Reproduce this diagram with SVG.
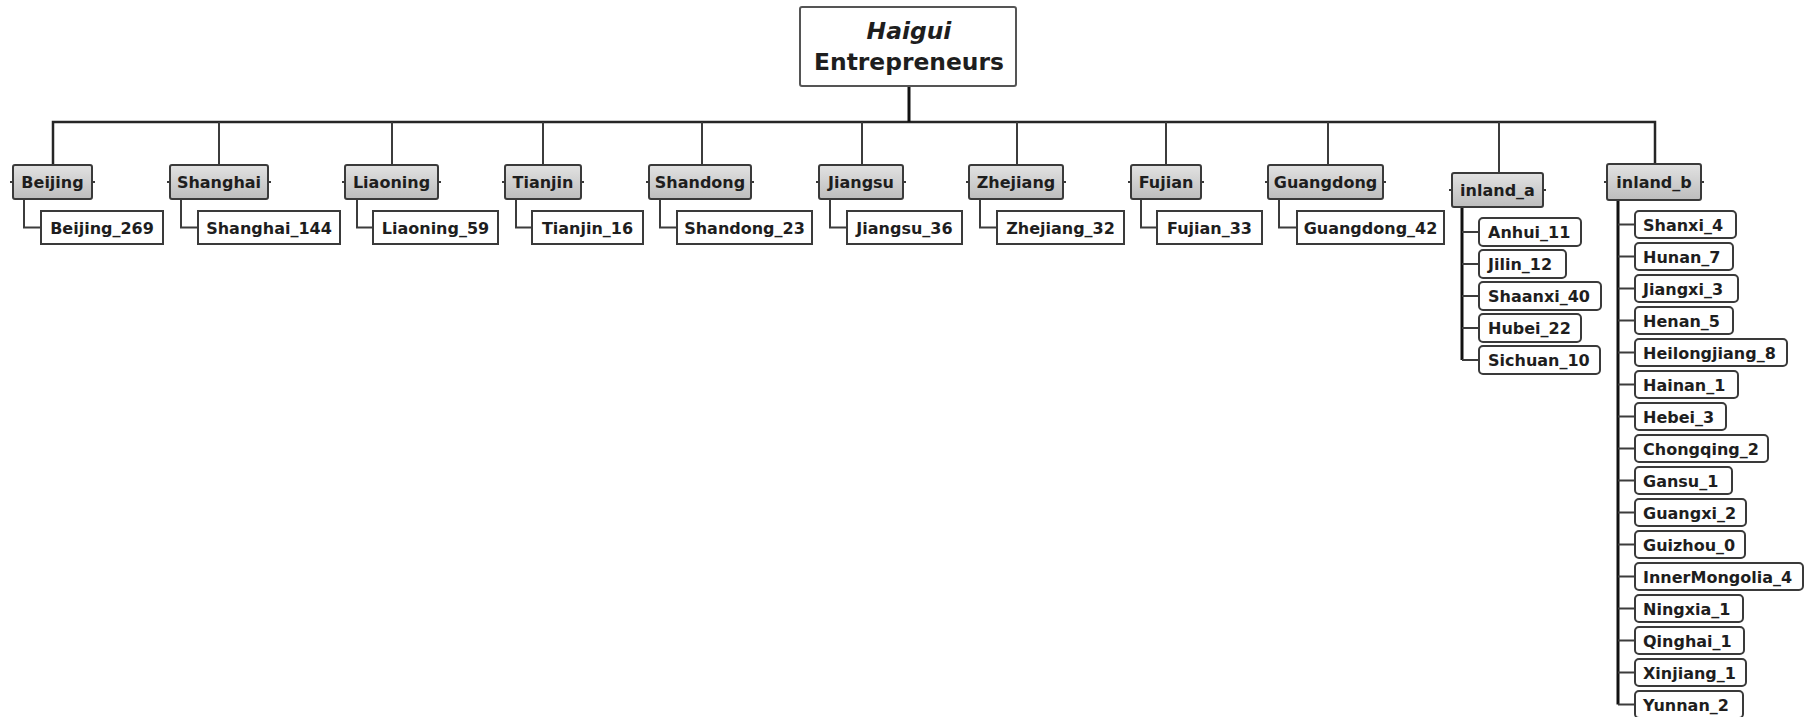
<svg xmlns="http://www.w3.org/2000/svg" width="1820" height="717" viewBox="0 0 1820 717">
<defs>
<linearGradient id="pg" x1="0" y1="0" x2="0" y2="1">
<stop offset="0" stop-color="#e2e2e2"/>
<stop offset="1" stop-color="#bdbdbd"/>
</linearGradient>
</defs>
<style>
text{font-family:"DejaVu Sans","Liberation Sans",sans-serif;font-weight:bold;fill:#1e1e1e}
.t{font-size:16px}
.c{text-anchor:middle}
.root rect{fill:#fff;stroke:#555;stroke-width:2}
.root text{font-size:23.4px;text-anchor:middle}
.p rect{fill:url(#pg);stroke:#3a3a3a;stroke-width:2}
.p line{stroke:#3a3a3a;stroke-width:2}
.k rect{fill:#fff;stroke:#3a3a3a;stroke-width:2}
.r rect{fill:#fff;stroke:#3a3a3a;stroke-width:2}
.conn path{fill:none;stroke:#3c3c3c;stroke-width:2}
.conn .bus{stroke:#262626;stroke-width:2.5}
.conn .thick{stroke:#111;stroke-width:3}
</style>
<g class="conn" id="connectors">
<path class="bus" d="M53,165 V122 H1655 V164"/>
<path class="thick" d="M909,86 V122"/>
<path d="M219,122 V165 M392,122 V165 M543,122 V165 M702,122 V165 M862,122 V165 M1017,122 V165 M1166,122 V165 M1328,122 V165 M1499,122 V173"/>
<path d="M24,199 V227.5 H41"/>
<path d="M181,199 V227.5 H198"/>
<path d="M357,199 V227.5 H373"/>
<path d="M516,199 V227.5 H532"/>
<path d="M660,199 V227.5 H677"/>
<path d="M830,199 V227.5 H847"/>
<path d="M980,199 V227.5 H997"/>
<path d="M1141,199 V227.5 H1157"/>
<path d="M1279,199 V227.5 H1297"/>
<path class="thick" d="M1462,207 V360"/>
<path d="M1462,232 H1479 M1462,264 H1479 M1462,296 H1479 M1462,328 H1479 M1462,360 H1479"/>
<path class="thick" d="M1618,200 V704.5"/>
<path d="M1618,224.5 H1635 M1618,256.5 H1635 M1618,288.5 H1635 M1618,320.5 H1635 M1618,352.5 H1635 M1618,384.5 H1635 M1618,416.5 H1635 M1618,448.5 H1635 M1618,480.5 H1635 M1618,512.5 H1635 M1618,544.5 H1635 M1618,576.5 H1635 M1618,608.5 H1635 M1618,640.5 H1635 M1618,672.5 H1635 M1618,704.5 H1635"/>
</g>
<g class="root" id="root">
<rect x="800" y="7" width="216" height="79" rx="2"/>
<text x="909" y="39" font-style="italic">Haigui</text>
<text x="909" y="70">Entrepreneurs</text>
</g>
<g class="p" id="p-beijing"><rect x="13" y="165" width="79" height="34" rx="2"/><line x1="10" y1="182" x2="13" y2="182"/><line x1="92" y1="182" x2="95" y2="182"/><text class="t c" x="52.5" y="188">Beijing</text></g>
<g class="p" id="p-shanghai"><rect x="170" y="165" width="98" height="34" rx="2"/><line x1="167" y1="182" x2="170" y2="182"/><line x1="268" y1="182" x2="271" y2="182"/><text class="t c" x="219" y="188">Shanghai</text></g>
<g class="p" id="p-liaoning"><rect x="345" y="165" width="93" height="34" rx="2"/><line x1="342" y1="182" x2="345" y2="182"/><line x1="438" y1="182" x2="441" y2="182"/><text class="t c" x="391.5" y="188">Liaoning</text></g>
<g class="p" id="p-tianjin"><rect x="505" y="165" width="76" height="34" rx="2"/><line x1="502" y1="182" x2="505" y2="182"/><line x1="581" y1="182" x2="584" y2="182"/><text class="t c" x="543" y="188">Tianjin</text></g>
<g class="p" id="p-shandong"><rect x="649" y="165" width="102" height="34" rx="2"/><line x1="646" y1="182" x2="649" y2="182"/><line x1="751" y1="182" x2="754" y2="182"/><text class="t c" x="700" y="188">Shandong</text></g>
<g class="p" id="p-jiangsu"><rect x="819" y="165" width="84" height="34" rx="2"/><line x1="816" y1="182" x2="819" y2="182"/><line x1="903" y1="182" x2="906" y2="182"/><text class="t c" x="861" y="188">Jiangsu</text></g>
<g class="p" id="p-zhejiang"><rect x="969" y="165" width="94" height="34" rx="2"/><line x1="966" y1="182" x2="969" y2="182"/><line x1="1063" y1="182" x2="1066" y2="182"/><text class="t c" x="1016" y="188">Zhejiang</text></g>
<g class="p" id="p-fujian"><rect x="1131" y="165" width="70" height="34" rx="2"/><line x1="1128" y1="182" x2="1131" y2="182"/><line x1="1201" y1="182" x2="1204" y2="182"/><text class="t c" x="1166" y="188">Fujian</text></g>
<g class="p" id="p-guangdong"><rect x="1268" y="165" width="115" height="34" rx="2"/><line x1="1265" y1="182" x2="1268" y2="182"/><line x1="1383" y1="182" x2="1386" y2="182"/><text class="t c" x="1325.5" y="188">Guangdong</text></g>
<g class="p" id="p-inland_a"><rect x="1452" y="173" width="91" height="34" rx="2"/><line x1="1449" y1="190" x2="1452" y2="190"/><line x1="1543" y1="190" x2="1546" y2="190"/><text class="t c" x="1497.5" y="196">inland_a</text></g>
<g class="p" id="p-inland_b"><rect x="1607" y="164" width="94" height="36" rx="2"/><line x1="1604" y1="182" x2="1607" y2="182"/><line x1="1701" y1="182" x2="1704" y2="182"/><text class="t c" x="1654" y="188">inland_b</text></g>
<g class="k" id="c-beijing_269"><rect x="41" y="211" width="122" height="33"/><text class="t c" x="102" y="233.5">Beijing_269</text></g>
<g class="k" id="c-shanghai_144"><rect x="198" y="211" width="142" height="33"/><text class="t c" x="269" y="233.5">Shanghai_144</text></g>
<g class="k" id="c-liaoning_59"><rect x="373" y="211" width="125" height="33"/><text class="t c" x="435.5" y="233.5">Liaoning_59</text></g>
<g class="k" id="c-tianjin_16"><rect x="532" y="211" width="111" height="33"/><text class="t c" x="587.5" y="233.5">Tianjin_16</text></g>
<g class="k" id="c-shandong_23"><rect x="677" y="211" width="135" height="33"/><text class="t c" x="744.5" y="233.5">Shandong_23</text></g>
<g class="k" id="c-jiangsu_36"><rect x="847" y="211" width="115" height="33"/><text class="t c" x="904.5" y="233.5">Jiangsu_36</text></g>
<g class="k" id="c-zhejiang_32"><rect x="997" y="211" width="127" height="33"/><text class="t c" x="1060.5" y="233.5">Zhejiang_32</text></g>
<g class="k" id="c-fujian_33"><rect x="1157" y="211" width="105" height="33"/><text class="t c" x="1209.5" y="233.5">Fujian_33</text></g>
<g class="k" id="c-guangdong_42"><rect x="1297" y="211" width="147" height="33"/><text class="t c" x="1370.5" y="233.5">Guangdong_42</text></g>
<g class="r" id="a-anhui"><rect x="1479" y="218" width="102" height="28" rx="4"/><text class="t" x="1488" y="238">Anhui_11</text></g>
<g class="r" id="a-jilin"><rect x="1479" y="250" width="87" height="28" rx="4"/><text class="t" x="1488" y="270">Jilin_12</text></g>
<g class="r" id="a-shaanxi"><rect x="1479" y="282" width="122" height="28" rx="4"/><text class="t" x="1488" y="302">Shaanxi_40</text></g>
<g class="r" id="a-hubei"><rect x="1479" y="314" width="102" height="28" rx="4"/><text class="t" x="1488" y="334">Hubei_22</text></g>
<g class="r" id="a-sichuan"><rect x="1479" y="346" width="121" height="28" rx="4"/><text class="t" x="1488" y="366">Sichuan_10</text></g>
<g class="r" id="b-shanxi"><rect x="1635" y="211" width="101" height="27" rx="4"/><text class="t" x="1643" y="230.5">Shanxi_4</text></g>
<g class="r" id="b-hunan"><rect x="1635" y="243" width="98" height="27" rx="4"/><text class="t" x="1643" y="262.5">Hunan_7</text></g>
<g class="r" id="b-jiangxi"><rect x="1635" y="275" width="103" height="27" rx="4"/><text class="t" x="1643" y="294.5">Jiangxi_3</text></g>
<g class="r" id="b-henan"><rect x="1635" y="307" width="98" height="27" rx="4"/><text class="t" x="1643" y="326.5">Henan_5</text></g>
<g class="r" id="b-heilongjiang"><rect x="1635" y="339" width="152" height="27" rx="4"/><text class="t" x="1643" y="358.5">Heilongjiang_8</text></g>
<g class="r" id="b-hainan"><rect x="1635" y="371" width="103" height="27" rx="4"/><text class="t" x="1643" y="390.5">Hainan_1</text></g>
<g class="r" id="b-hebei"><rect x="1635" y="403" width="91" height="27" rx="4"/><text class="t" x="1643" y="422.5">Hebei_3</text></g>
<g class="r" id="b-chongqing"><rect x="1635" y="435" width="133" height="27" rx="4"/><text class="t" x="1643" y="454.5">Chongqing_2</text></g>
<g class="r" id="b-gansu"><rect x="1635" y="467" width="97" height="27" rx="4"/><text class="t" x="1643" y="486.5">Gansu_1</text></g>
<g class="r" id="b-guangxi"><rect x="1635" y="499" width="111" height="27" rx="4"/><text class="t" x="1643" y="518.5">Guangxi_2</text></g>
<g class="r" id="b-guizhou"><rect x="1635" y="531" width="110" height="27" rx="4"/><text class="t" x="1643" y="550.5">Guizhou_0</text></g>
<g class="r" id="b-innermongolia"><rect x="1635" y="563" width="168" height="27" rx="4"/><text class="t" x="1643" y="582.5">InnerMongolia_4</text></g>
<g class="r" id="b-ningxia"><rect x="1635" y="595" width="108" height="27" rx="4"/><text class="t" x="1643" y="614.5">Ningxia_1</text></g>
<g class="r" id="b-qinghai"><rect x="1635" y="627" width="109" height="27" rx="4"/><text class="t" x="1643" y="646.5">Qinghai_1</text></g>
<g class="r" id="b-xinjiang"><rect x="1635" y="659" width="111" height="27" rx="4"/><text class="t" x="1643" y="678.5">Xinjiang_1</text></g>
<g class="r" id="b-yunnan"><rect x="1635" y="691" width="108" height="27" rx="4"/><text class="t" x="1643" y="710.5">Yunnan_2</text></g>
</svg>
